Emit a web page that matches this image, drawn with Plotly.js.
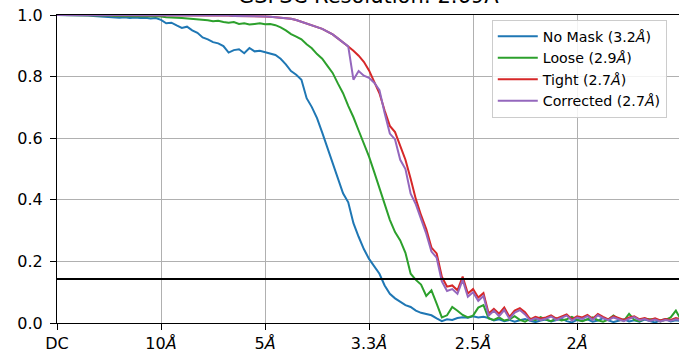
<!DOCTYPE html>
<html>
<head>
<meta charset="utf-8">
<script src="https://cdn.plot.ly/plotly-3.0.1.min.js"></script>
<style>html,body{margin:0;padding:0;background:#fff;}#chart{width:679px;height:356px;}</style>
</head>
<body>
<div id="chart"></div>
<script>
// Spatial frequency (1/Å)
const freq = [0.000,0.005,0.010,0.015,0.020,0.025,0.030,0.035,0.040,0.045,
0.050,0.055,0.060,0.065,0.070,0.075,0.080,0.085,0.090,0.095,
0.100,0.105,0.110,0.115,0.120,0.125,0.130,0.135,0.140,0.145,
0.150,0.155,0.160,0.165,0.170,0.175,0.180,0.185,0.190,0.195,
0.200,0.205,0.210,0.215,0.220,0.225,0.230,0.235,0.240,0.245,
0.250,0.255,0.260,0.265,0.270,0.275,0.280,0.285,0.290,0.295,
0.300,0.305,0.310,0.315,0.320,0.325,0.330,0.335,0.340,0.345,
0.350,0.355,0.360,0.365,0.370,0.375,0.380,0.385,0.390,0.395,
0.400,0.405,0.410,0.415,0.420,0.425,0.430,0.435,0.440,0.445,
0.450,0.455,0.460,0.465,0.470,0.475,0.480,0.485,0.490,0.495,
0.500,0.505,0.510,0.515,0.520,0.525,0.530,0.535,0.540,0.545,
0.550,0.555,0.560,0.565,0.570,0.575,0.580,0.585,0.590,0.595,0.600];

const fscNoMask = [1.000,1.000,1.000,0.999,0.999,0.998,0.998,0.997,0.996,0.995,
0.993,0.994,0.991,0.993,0.990,0.992,0.990,0.991,0.989,0.990,
0.984,0.973,0.975,0.966,0.958,0.962,0.950,0.942,0.927,0.921,
0.912,0.908,0.899,0.878,0.886,0.889,0.876,0.893,0.882,0.884,
0.879,0.876,0.870,0.858,0.840,0.818,0.806,0.790,0.730,0.701,
0.665,0.618,0.570,0.518,0.468,0.421,0.392,0.324,0.280,0.240,
0.208,0.182,0.160,0.122,0.095,0.080,0.068,0.058,0.052,0.040,
0.033,0.030,0.025,0.015,0.006,0.012,0.010,0.016,0.019,0.017,
0.022,0.018,0.020,0.016,0.008,0.012,0.006,0.010,0.004,0.009,
0.013,0.007,0.003,0.008,0.011,0.005,0.009,0.014,0.006,0.002,
0.010,0.007,0.012,0.004,0.008,0.016,0.009,0.003,0.007,0.012,
0.005,0.009,0.004,0.011,0.006,0.002,0.008,0.013,0.005,0.009,0.006];

const fscLoose = [1.000,1.000,1.000,1.000,1.000,0.999,0.999,0.999,0.998,0.998,
0.998,0.997,0.997,0.996,0.997,0.996,0.996,0.995,0.996,0.995,
0.995,0.993,0.993,0.991,0.990,0.989,0.987,0.987,0.984,0.983,
0.980,0.981,0.977,0.975,0.977,0.971,0.973,0.969,0.971,0.973,
0.970,0.971,0.967,0.960,0.950,0.938,0.930,0.921,0.905,0.892,
0.873,0.858,0.835,0.812,0.778,0.746,0.705,0.668,0.625,0.585,
0.540,0.490,0.440,0.385,0.335,0.295,0.268,0.228,0.160,0.140,
0.125,0.088,0.106,0.063,0.018,0.025,0.052,0.040,0.026,0.018,
0.024,0.050,0.058,0.015,0.010,0.018,0.008,0.012,0.022,0.010,
0.004,0.014,0.009,0.019,0.011,0.006,0.015,0.008,0.012,0.020,
0.010,0.006,0.013,0.018,0.009,0.004,0.011,0.024,0.012,0.007,
0.030,0.010,0.006,0.014,0.012,0.012,0.005,0.010,0.018,0.040,0.010];

const fscTight = [1.000,1.000,1.000,1.000,1.000,1.000,1.000,1.000,1.000,1.000,
1.000,1.000,1.000,1.000,1.000,1.000,1.000,1.000,1.000,1.000,
1.000,1.000,1.000,1.000,1.000,1.000,1.000,1.000,1.000,1.000,
0.999,0.999,0.998,0.998,0.997,0.997,0.996,0.996,0.995,0.995,
0.995,0.994,0.993,0.992,0.990,0.988,0.984,0.978,0.973,0.968,
0.961,0.955,0.946,0.937,0.924,0.912,0.898,0.884,0.868,0.848,
0.820,0.783,0.746,0.690,0.640,0.620,0.575,0.530,0.468,0.402,
0.350,0.305,0.245,0.226,0.150,0.118,0.122,0.106,0.151,0.096,
0.110,0.083,0.097,0.031,0.046,0.030,0.050,0.020,0.040,0.048,
0.035,0.012,0.020,0.015,0.018,0.025,0.014,0.020,0.028,0.012,
0.022,0.018,0.026,0.014,0.029,0.020,0.012,0.022,0.016,0.010,
0.018,0.022,0.012,0.016,0.010,0.015,0.008,0.013,0.010,0.016,0.012];

const fscCorrected = [1.000,1.000,1.000,1.000,1.000,1.000,1.000,1.000,1.000,1.000,
1.000,1.000,1.000,1.000,1.000,1.000,1.000,1.000,1.000,1.000,
1.000,1.000,1.000,1.000,1.000,1.000,1.000,1.000,1.000,1.000,
0.999,0.999,0.998,0.998,0.997,0.997,0.996,0.996,0.995,0.995,
0.995,0.994,0.993,0.992,0.990,0.988,0.984,0.978,0.973,0.968,
0.961,0.955,0.946,0.937,0.924,0.912,0.898,0.790,0.818,0.803,
0.796,0.780,0.756,0.682,0.615,0.596,0.530,0.500,0.420,0.385,
0.336,0.290,0.232,0.212,0.135,0.104,0.110,0.095,0.140,0.085,
0.100,0.072,0.088,0.024,0.040,0.022,0.042,0.014,0.034,0.042,
0.028,0.008,0.015,0.010,0.014,0.021,0.010,0.017,0.024,0.008,
0.018,0.013,0.022,0.010,0.025,0.016,0.009,0.018,0.012,0.006,
0.014,0.019,0.009,0.013,0.007,0.011,0.005,0.010,0.007,0.012,0.009];

const seriesNames = ["No Mask (3.2<i>Å</i>)","Loose (2.9<i>Å</i>)","Tight (2.7<i>Å</i>)","Corrected (2.7<i>Å</i>)"];
const seriesColors = ["#1f77b4","#2ca02c","#d62728","#9467bd"];
const seriesValues = [fscNoMask, fscLoose, fscTight, fscCorrected];

const xTickVals = [0, 0.1, 0.2, 0.3, 0.4, 0.5];
const xTickText = ["DC","10<i>Å</i>","5<i>Å</i>","3.3<i>Å</i>","2.5<i>Å</i>","2<i>Å</i>"];
const yTickVals = [0, 0.2, 0.4, 0.6, 0.8, 1.0];
const threshold = 0.143;
const titleText = "GSFSC Resolution: 2.69Å";

const traces = seriesValues.map((v, i) => ({
  x: freq, y: v, type: "scatter", mode: "lines", name: seriesNames[i],
  line: {color: seriesColors[i], width: 2}
}));

const font = {family: "DejaVu Sans", color: "#000"};
const layout = {
  width: 679, height: 356,
  margin: {l: 57, r: 0, t: 15, b: 33, pad: 0},
  paper_bgcolor: "#fff", plot_bgcolor: "#fff",
  font: Object.assign({size: 16}, font),
  showlegend: true,
  legend: {
    x: 0.699, y: 0.985, xanchor: "left", yanchor: "top",
    bgcolor: "rgba(255,255,255,0.85)", bordercolor: "#cccccc", borderwidth: 1,
    font: Object.assign({size: 14.2}, font), tracegroupgap: 0, itemwidth: 40
  },
  xaxis: {
    range: [0, 0.598], tickmode: "array", tickvals: xTickVals, ticktext: xTickText,
    showgrid: true, gridcolor: "#b0b0b0", gridwidth: 1, zeroline: false,
    showline: true, linecolor: "#000", linewidth: 1, mirror: true,
    ticks: "outside", ticklen: 6, tickwidth: 1, tickcolor: "#000",
    tickfont: Object.assign({size: 16}, font)
  },
  yaxis: {
    range: [0, 1], tickmode: "array", tickvals: yTickVals,
    ticktext: yTickVals.map(v => v.toFixed(1)),
    showgrid: true, gridcolor: "#b0b0b0", gridwidth: 1, zeroline: false,
    showline: true, linecolor: "#000", linewidth: 1,
    ticks: "outside", ticklen: 6, tickwidth: 1, tickcolor: "#000",
    ticklabelstandoff: 4,
    tickfont: Object.assign({size: 16}, font)
  },
  shapes: [{
    type: "line", xref: "paper", x0: 0, x1: 1, yref: "y", y0: threshold, y1: threshold,
    line: {color: "#000", width: 2}, layer: "above"
  }],
  annotations: [{
    text: titleText, xref: "paper", yref: "paper", x: 0.5, y: 1,
    xanchor: "center", yanchor: "bottom", yshift: 5, showarrow: false,
    font: Object.assign({size: 21}, font)
  }]
};

Plotly.newPlot("chart", traces, layout, {displayModeBar: false, staticPlot: true});
</script>
</body>
</html>
